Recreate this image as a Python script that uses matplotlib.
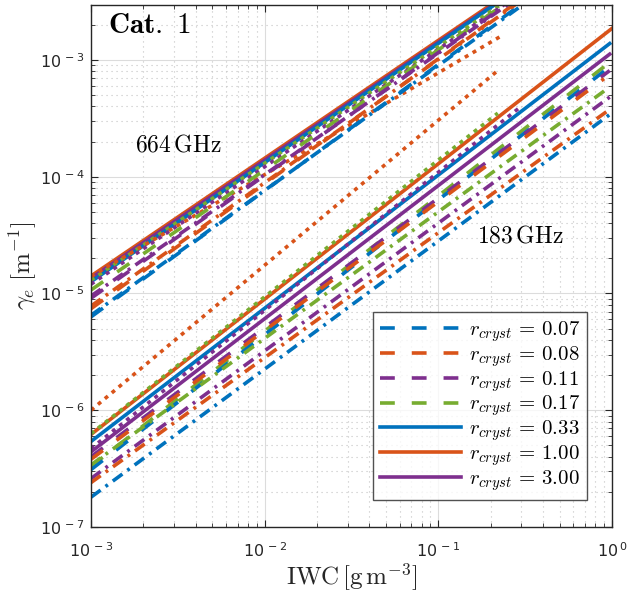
import numpy as np
import matplotlib
matplotlib.use("Agg")
import matplotlib.pyplot as plt
from matplotlib.ticker import LogLocator, NullFormatter

# MATLAB default colours used in the figure
c_blue = "#0072BD"
c_orange = "#D95319"
c_purple = "#7E2F8E"
c_green = "#77AC30"

# legend entries
r_cryst = ["0.07", "0.08", "0.11", "0.17", "0.33", "1.00", "3.00"]
leg_colors = [c_blue, c_orange, c_purple, c_green, c_blue, c_orange, c_purple]
leg_styles = ["dash", "dash", "dash", "dash", "solid", "solid", "solid"]

# each line: IWC start / end and gamma_e start / end
# ---- 183 GHz ----
l183_color = [c_orange, c_blue, c_purple,
              c_green, c_blue, c_purple, c_orange,
              c_green, c_purple, c_orange, c_blue,
              c_green, c_purple, c_orange]
l183_style = ["solid", "solid", "solid",
              "dash", "dash", "dash", "dash",
              "dashdot", "dashdot", "dashdot", "dashdot",
              "dot", "dot", "dot"]
l183_iwc0 = [1e-3] * 14
l183_iwc1 = [1.0, 0.97, 0.97,
             0.95, 0.9, 0.97, 0.9,
             0.93, 0.97, 0.93, 0.97,
             0.22, 0.30, 0.22]
l183_g0 = [6.2e-7, 5.4e-7, 4.4e-7,
           3.3e-7, 3.1e-7, 4.0e-7, 3.8e-7,
           3.4e-7, 2.6e-7, 2.4e-7, 1.8e-7,
           6.3e-7, 4.7e-7, 1.0e-6]
l183_g1 = [1.86e-3, 1.38e-3, 1.12e-3,
           9.3e-4, 8.0e-4, 8.1e-4, 6.9e-4,
           5.6e-4, 4.8e-4, 3.6e-4, 3.4e-4,
           3.5e-4, 4.0e-4, 8.1e-4]

# ---- 664 GHz ----
l664_color = [c_orange, c_purple, c_blue,
              c_green, c_purple, c_orange,
              c_green, c_purple, c_orange, c_blue,
              c_purple, c_orange, c_blue]
l664_style = ["solid", "solid", "solid",
              "dot", "dot", "dot",
              "dash", "dash", "dash", "dash",
              "dashdot", "dashdot", "dashdot"]
l664_iwc0 = [1e-3] * 13
l664_iwc1 = [1.0] * 5 + [0.23] + [1.0] * 7
l664_g0 = [1.41e-5, 1.35e-5, 1.26e-5,
           1.30e-5, 1.20e-5, 1.40e-5,
           1.07e-5, 9.1e-6, 7.4e-6, 6.3e-6,
           9.5e-6, 7.8e-6, 6.5e-6]
l664_g1 = [1.5e-2, 1.45e-2, 1.45e-2,
           1.3e-2, 1.25e-2, 1.6e-3,
           1.3e-2, 1.3e-2, 1.2e-2, 1.1e-2,
           1.25e-2, 1.15e-2, 1.05e-2]

styles = {"solid": "-",
          "dash": (0, (4.1, 4.7)),
          "dashdot": (0, (3.3, 1.7, 0.8, 1.7)),
          "dot": (0, (1.1, 1.4))}

plt.rcParams["font.family"] = ["Liberation Sans", "DejaVu Sans"]
fig = plt.figure(figsize=(6.27, 5.99), dpi=100, facecolor="white")
ax = fig.add_axes([91 / 627, 1 - 527 / 599, 521 / 627, 522 / 599])
lw = 2.6

for col, st, x0, x1, g0, g1 in zip(l183_color, l183_style, l183_iwc0, l183_iwc1, l183_g0, l183_g1):
    ax.plot([x0, x1], [g0, g1], color=col, ls=styles[st], lw=lw, dash_capstyle="butt")
for col, st, x0, x1, g0, g1 in zip(l664_color, l664_style, l664_iwc0, l664_iwc1, l664_g0, l664_g1):
    ax.plot([x0, x1], [g0, g1], color=col, ls=styles[st], lw=lw, dash_capstyle="butt")

ax.set_xscale("log")
ax.set_yscale("log")
ax.set_xlim(1e-3, 1)
ax.set_ylim(1e-7, 10 ** -2.53)

ax.set_xticks([1e-3, 1e-2, 1e-1, 1e0])
ax.set_xticklabels([r"$10^{\,-3}$", r"$10^{\,-2}$", r"$10^{\,-1}$", r"$10^{\,0}$"])
ax.set_yticks([1e-7, 1e-6, 1e-5, 1e-4, 1e-3])
ax.set_yticklabels([r"$10^{\,-7}$", r"$10^{\,-6}$", r"$10^{\,-5}$", r"$10^{\,-4}$", r"$10^{\,-3}$"])
ax.xaxis.set_minor_locator(LogLocator(base=10, subs=np.arange(2, 10), numticks=20))
ax.yaxis.set_minor_locator(LogLocator(base=10, subs=np.arange(2, 10), numticks=20))
ax.xaxis.set_minor_formatter(NullFormatter())
ax.yaxis.set_minor_formatter(NullFormatter())
ax.tick_params(which="both", direction="in", top=True, right=True, labelsize=11.5,
               color="#262626", labelcolor="#262626")
ax.tick_params(which="major", length=5, width=0.8)
ax.tick_params(which="minor", length=3, width=0.6)
ax.tick_params(axis="x", pad=10)
ax.tick_params(axis="y", pad=5)

ax.grid(True, which="major", color="#dcdcdc", lw=0.8, ls="-")
ax.grid(True, which="minor", color="#c4c4c4", lw=0.8, ls=(0, (1, 3.5)))
ax.set_axisbelow(True)
for s in ax.spines.values():
    s.set_linewidth(1.0)
    s.set_color("#262626")

xl = ax.set_xlabel(r"$\mathrm{IWC}\,[\mathrm{g\,m^{-3}}]$", fontsize=18, color="#262626", labelpad=1)
xl.set_math_fontfamily("cm")
yl = ax.set_ylabel(r"$\gamma_e\ [\mathrm{m}^{-1}]$", fontsize=18, color="#262626")
yl.set_math_fontfamily("cm")
ax.yaxis.set_label_coords(-0.100, 0.5)

t = ax.text(0.033, 0.988, r"$\mathbf{Cat.\ 1}$", transform=ax.transAxes, fontsize=21,
            va="top", ha="left")
t.set_math_fontfamily("cm")
t = ax.text(1.79e-3, 1.85e-4, r"$664\,\mathrm{GHz}$", fontsize=17, va="center", ha="left")
t.set_math_fontfamily("cm")
t = ax.text(0.167, 3.1e-5, r"$183\,\mathrm{GHz}$", fontsize=17, va="center", ha="left")
t.set_math_fontfamily("cm")

handles = []
for col, st, r in zip(leg_colors, leg_styles, r_cryst):
    h, = ax.plot([], [], color=col, ls=styles[st], lw=lw, dash_capstyle="butt",
                 label=r"$r_{cryst}\,=\,%s$" % r)
    handles.append(h)
leg = ax.legend(handles=handles, loc="lower right", bbox_to_anchor=(0.952, 0.052),
                fontsize=15, frameon=True, fancybox=False, edgecolor="#262626",
                handlelength=3.9, handletextpad=0.35, labelspacing=0.0,
                borderpad=0.35, borderaxespad=0)
leg.get_frame().set_linewidth(1.0)
for txt in leg.get_texts():
    txt.set_math_fontfamily("cm")

fig.savefig("out.png", dpi=100, facecolor="white")
